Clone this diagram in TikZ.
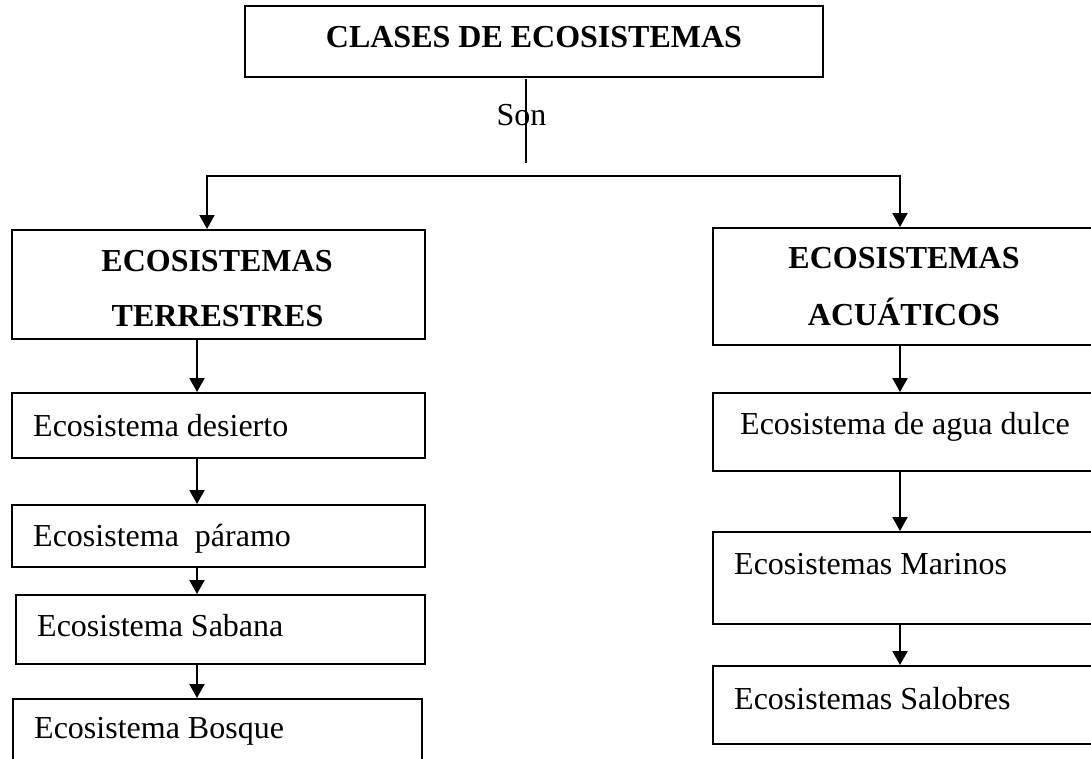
\documentclass[tikz,border=0pt]{standalone}
\usepackage{fontspec}
\setmainfont{Liberation Serif}
\usetikzlibrary{arrows.meta}
\begin{document}
\begin{tikzpicture}[x=1pt,y=-1pt,
  box/.style={draw, line width=2pt, rectangle, inner sep=0pt},
  lbl/.style={font=\fontsize{32pt}{38pt}\selectfont, inner sep=0pt},
  head/.style={font=\fontsize{32pt}{38pt}\selectfont\bfseries, inner sep=0pt},
  tip/.tip={Triangle[width=15pt,length=14pt]},
  arr/.style={line width=2pt, -tip},
  thinline/.style={line width=1.2pt}]
\useasboundingbox (0,0) rectangle (1091,758);
\fill[white] (0,0) rectangle (1091,758);

% boxes
\node[box, minimum width=578pt, minimum height=71pt] (top) at (534,41.5) {};
\node[box, minimum width=413pt, minimum height=109pt] (terr) at (218.5,284.5) {};
\node[box, minimum width=382pt, minimum height=117pt] (acua) at (904,286.5) {};
\node[box, minimum width=413pt, minimum height=65pt] (des) at (218.5,425.5) {};
\node[box, minimum width=413pt, minimum height=62pt] (par) at (218.5,536) {};
\node[box, minimum width=409pt, minimum height=69pt] (sab) at (220.5,629.5) {};
\node[box, minimum width=409pt, minimum height=90pt] (bos) at (217.5,744) {};
\node[box, minimum width=382pt, minimum height=78pt] (dul) at (904,432) {};
\node[box, minimum width=382pt, minimum height=92pt] (mar) at (904,578) {};
\node[box, minimum width=382pt, minimum height=78pt] (sal) at (904,705) {};

% texts
\node[head, anchor=base] (tTop) at (534,47) {CLASES DE ECOSISTEMAS};
\node[head, anchor=base] (tTerr1) at (217,271) {ECOSISTEMAS};
\node[head, anchor=base] (tTerr2) at (217.5,326) {TERRESTRES};
\node[head, anchor=base] (tAcua1) at (904,268) {ECOSISTEMAS};
\node[head, anchor=base] (tAcua2) at (904,325) {ACUÁTICOS};
\node[lbl, anchor=base west] (tDes) at (33,436) {Ecosistema desierto};
\node[lbl, anchor=base west] (tPar) at (33,546) {Ecosistema~~páramo};
\node[lbl, anchor=base west] (tSab) at (37,636) {Ecosistema Sabana};
\node[lbl, anchor=base west] (tBos) at (34,738) {Ecosistema Bosque};
\node[lbl, anchor=base west] (tDul) at (740,434) {Ecosistema de agua dulce};
\node[lbl, anchor=base west] (tMar) at (734,574) {Ecosistemas Marinos};
\node[lbl, anchor=base west] (tSal) at (734,709) {Ecosistemas Salobres};

% "Son" connector
\coordinate (sonTop) at (526,79);
\coordinate (sonBot) at (526,163);
\draw[thinline] (sonTop) -- (sonBot);
\node[lbl, anchor=base] (son) at (521.5,125) {Son};

% branch
\coordinate (hL) at (207,176);
\coordinate (hR) at (900,176);
\draw[line width=2pt, tip-tip] (hL |- terr.north) -- (hL) -- (hR) -- (hR |- acua.north);

% columns
\coordinate (lx) at (197,0);
\coordinate (rx) at (900,0);
\draw[arr] (lx |- terr.south) -- (lx |- des.north);
\draw[arr] (lx |- des.south) -- (lx |- par.north);
\draw[arr] (lx |- par.south) -- (lx |- sab.north);
\draw[arr] (lx |- sab.south) -- (lx |- bos.north);
\draw[arr] (rx |- acua.south) -- (rx |- dul.north);
\draw[arr] (rx |- dul.south) -- (rx |- mar.north);
\draw[arr] (rx |- mar.south) -- (rx |- sal.north);
\end{tikzpicture}
\end{document}
